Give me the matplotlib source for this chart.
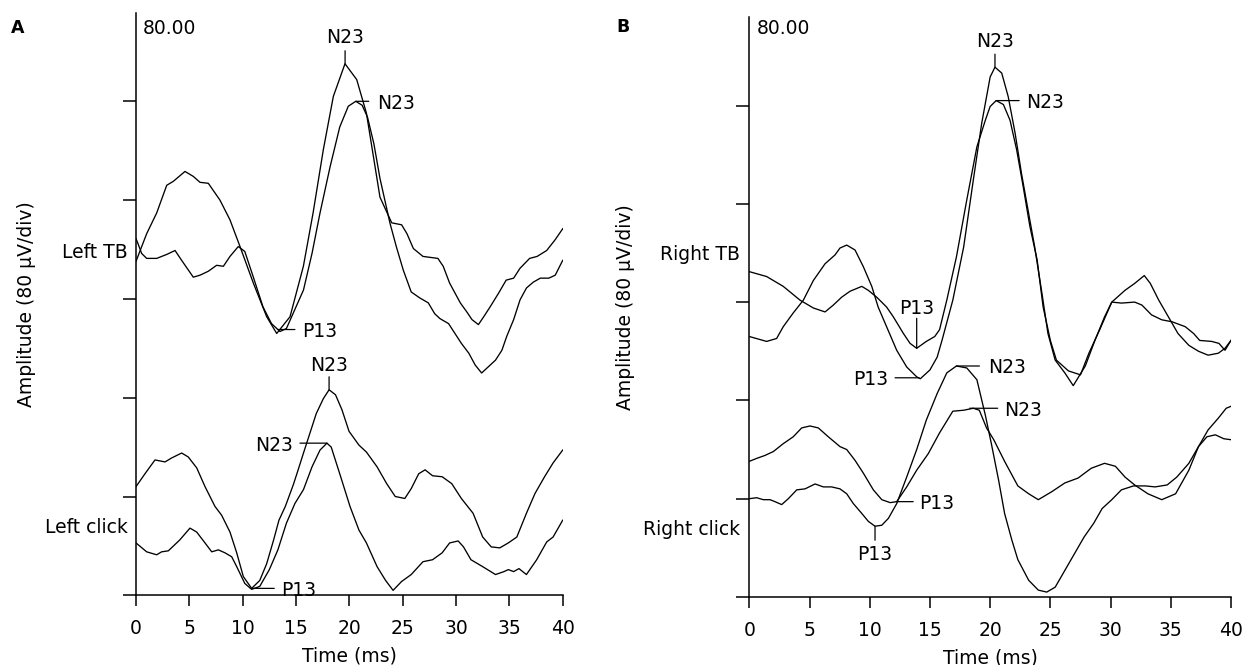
import matplotlib
matplotlib.use("Agg")
import matplotlib.pyplot as plt

plt.rcParams['font.family'] = ['DejaVu Sans']
plt.rcParams['font.size'] = 13.5

PX = 0.72   # points per pixel at 100 dpi

# ---------------- panel A : Left TB (amplitude in divisions of 80 uV)
a1_t = [0, 1.0, 1.94, 2.88, 3.5, 4.59, 5.37, 6.0, 6.78, 7.87, 8.81, 9.75, 11.0, 12.25,
        13.19, 14.44, 15.69, 16.6, 17.56, 18.5, 19.59, 20.69, 21.6, 22.87, 23.97, 24.9,
        25.4, 26.0, 26.9, 28.3, 28.8, 29.4, 30.4, 31.0, 31.5, 32.1, 32.6, 33.2, 34.0,
        34.7, 35.4, 36.0, 36.9, 37.6, 38.5, 39.3, 40.0]
a1_y = [3.38, 3.66, 3.87, 4.15, 4.19, 4.29, 4.24, 4.18, 4.17, 4.00, 3.80, 3.53, 3.16, 2.82,
        2.65, 2.82, 3.33, 3.87, 4.51, 5.05, 5.38, 5.22, 4.88, 4.03, 3.77, 3.75,
        3.66, 3.51, 3.43, 3.41, 3.33, 3.16, 2.96, 2.87, 2.79, 2.74, 2.82, 2.92, 3.06,
        3.19, 3.21, 3.31, 3.41, 3.43, 3.49, 3.60, 3.71]

a2_t = [0, 0.22, 0.53, 1.0, 1.94, 2.88, 3.66, 4.28, 5.37, 6.0, 6.78, 7.56, 8.19, 8.81,
        9.59, 10.2, 11.0, 11.9, 12.7, 13.5, 14.1, 15.7, 16.5, 17.25, 18.2, 19.1, 19.9,
        20.6, 21.2, 21.7, 22.3, 22.87, 23.8, 24.4, 25.06, 25.8, 26.6, 27.4, 28.0, 28.5,
        29.3, 29.9, 30.5, 31.2, 31.8, 32.4, 32.9, 33.7, 34.3, 34.75, 35.4, 36.0, 36.6,
        37.25, 37.9, 38.7, 39.3, 40.0]
a2_y = [3.61, 3.55, 3.46, 3.41, 3.41, 3.45, 3.49, 3.39, 3.22, 3.24, 3.28, 3.34, 3.33, 3.43,
        3.53, 3.48, 3.22, 2.92, 2.75, 2.67, 2.70, 3.09, 3.46, 3.87, 4.34, 4.74, 4.95,
        5.00, 4.96, 4.84, 4.57, 4.22, 3.77, 3.53, 3.29, 3.07, 3.01, 2.96, 2.85, 2.80,
        2.75, 2.65, 2.55, 2.45, 2.33, 2.25, 2.30, 2.38, 2.48, 2.62, 2.79, 2.99, 3.11,
        3.17, 3.21, 3.21, 3.24, 3.39]

# ---------------- panel A : Left click
c1_t = [0, 0.84, 1.78, 2.72, 3.34, 4.28, 4.9, 5.69, 6.47, 7.4, 8.03, 8.81, 9.44, 10.06,
        10.84, 11.6, 12.25, 12.9, 13.4, 14.0, 14.75, 15.2, 15.7, 16.3, 16.9, 17.56, 18.1,
        18.7, 19.3, 19.97, 20.9, 21.6, 22.6, 23.5, 24.3, 25.2, 25.8, 26.5, 27.1, 27.8,
        28.7, 29.6, 30.5, 31.6, 32.5, 33.3, 34.1, 34.9, 35.7, 36.6, 37.4, 38.3, 39.1, 40.0]
c1_y = [1.10, 1.23, 1.37, 1.35, 1.39, 1.44, 1.40, 1.29, 1.10, 0.90, 0.81, 0.64, 0.43, 0.19,
        0.07, 0.15, 0.32, 0.56, 0.76, 0.90, 1.12, 1.27, 1.44, 1.64, 1.84, 1.99, 2.08,
        2.03, 1.88, 1.66, 1.52, 1.45, 1.30, 1.13, 1.00, 0.98, 1.08, 1.23, 1.27, 1.21,
        1.20, 1.13, 0.98, 0.83, 0.59, 0.49, 0.48, 0.53, 0.59, 0.83, 1.03, 1.20, 1.34, 1.47]

c2_t = [0, 1.0, 1.94, 2.4, 3.03, 4.1, 5.06, 5.69, 6.47, 7.1, 7.72, 8.34, 8.97, 9.44, 10.2,
        10.84, 11.6, 12.5, 13.3, 14.1, 14.9, 15.7, 16.5, 17.25, 17.9, 18.3, 19.1, 20.06,
        20.9, 21.6, 22.6, 23.4, 24.1, 24.9, 25.8, 26.9, 27.8, 28.7, 29.4, 30.2, 30.7,
        31.4, 32.5, 33.7, 34.5, 34.9, 35.4, 35.9, 36.6, 37.56, 38.5, 39.1, 40.0]
c2_y = [0.53, 0.44, 0.41, 0.44, 0.45, 0.56, 0.68, 0.64, 0.53, 0.44, 0.46, 0.43, 0.39, 0.29,
        0.12, 0.06, 0.09, 0.26, 0.46, 0.73, 0.93, 1.07, 1.30, 1.47, 1.54, 1.50, 1.23, 0.90,
        0.66, 0.53, 0.29, 0.15, 0.05, 0.14, 0.21, 0.34, 0.36, 0.43, 0.53, 0.55, 0.49,
        0.36, 0.29, 0.21, 0.24, 0.26, 0.24, 0.27, 0.21, 0.36, 0.54, 0.59, 0.76]

# ---------------- panel B : Right TB
b1_t = [0, 1.44, 2.82, 4.21, 5.32, 6.29, 6.98, 7.67, 8.36, 9.34, 9.88, 10.58, 11.4, 11.96,
        12.8, 13.35, 13.9, 14.7, 15.4, 15.8, 16.4, 17.2, 18.06, 18.9, 19.6, 20.0, 20.5,
        21.1, 21.65, 22.2, 22.75, 23.3, 23.9, 24.4, 25.0, 25.5, 26.5, 27.5, 28.2, 29.1,
        30.1, 30.9, 32.0, 32.6, 33.4, 34.25, 35.1, 36.2, 36.9, 37.4, 38.4, 39.0, 39.5, 40.0]
b1_y = [3.31, 3.26, 3.16, 3.02, 2.94, 2.90, 2.97, 3.05, 3.11, 3.16, 3.12, 3.05, 2.95, 2.85,
        2.68, 2.58, 2.53, 2.60, 2.65, 2.72, 3.02, 3.46, 4.04, 4.58, 4.85, 4.99, 5.05,
        5.01, 4.85, 4.55, 4.17, 3.77, 3.43, 2.95, 2.61, 2.41, 2.30, 2.26, 2.48, 2.72,
        3.00, 2.99, 3.00, 2.97, 2.87, 2.82, 2.80, 2.75, 2.68, 2.61, 2.60, 2.58, 2.51, 2.61]

b2_t = [0, 1.44, 2.27, 2.82, 3.65, 4.49, 5.32, 6.29, 7.12, 7.53, 8.09, 8.78, 9.47, 10.17,
        10.7, 11.4, 12.24, 13.07, 13.9, 14.2, 15.0, 15.6, 16.0, 16.9, 17.8, 18.6, 19.3,
        20.0, 20.4, 20.96, 21.5, 22.07, 22.6, 23.2, 23.7, 24.3, 24.8, 25.4, 26.2, 26.9,
        27.9, 28.7, 29.5, 30.1, 31.2, 32.0, 32.8, 33.3, 34.0, 34.8, 35.6, 36.5, 37.3,
        38.1, 38.95, 39.5, 40.0]
b2_y = [2.65, 2.60, 2.63, 2.75, 2.89, 3.02, 3.22, 3.39, 3.48, 3.55, 3.58, 3.53, 3.36, 3.16,
        2.95, 2.75, 2.51, 2.34, 2.24, 2.22, 2.31, 2.44, 2.61, 3.02, 3.56, 4.24, 4.82,
        5.29, 5.39, 5.33, 5.09, 4.72, 4.31, 3.90, 3.56, 3.09, 2.68, 2.41, 2.28, 2.15,
        2.35, 2.61, 2.85, 3.00, 3.12, 3.19, 3.27, 3.19, 3.02, 2.85, 2.68, 2.56, 2.50,
        2.46, 2.48, 2.53, 2.61]

# ---------------- panel B : Right click
d1_t = [0, 0.61, 1.30, 2.0, 2.82, 3.65, 4.35, 5.04, 5.73, 6.56, 7.53, 8.09, 8.78, 9.47,
        10.3, 11.0, 11.7, 12.24, 13.07, 13.9, 14.87, 15.8, 16.9, 17.8, 18.6, 19.1, 19.7,
        20.3, 21.2, 22.3, 23.2, 24.0, 25.1, 26.2, 27.3, 28.4, 29.5, 30.4, 31.2, 32.0,
        33.1, 34.25, 35.4, 36.5, 37.3, 38.0, 38.7, 39.4, 40.0]
d1_y = [1.38, 1.41, 1.44, 1.48, 1.56, 1.63, 1.72, 1.74, 1.72, 1.63, 1.53, 1.50, 1.39, 1.26,
        1.09, 0.99, 0.96, 0.97, 1.12, 1.29, 1.46, 1.67, 1.89, 1.90, 1.92, 1.90, 1.72,
        1.60, 1.38, 1.13, 1.05, 0.99, 1.07, 1.16, 1.21, 1.31, 1.36, 1.33, 1.22, 1.14,
        1.05, 0.99, 1.05, 1.29, 1.53, 1.63, 1.65, 1.61, 1.60]

d2_t = [0, 0.61, 1.16, 1.72, 2.13, 2.69, 3.24, 3.94, 4.63, 5.46, 6.15, 6.84, 7.53, 8.09,
        8.64, 9.34, 9.88, 10.44, 11.0, 11.55, 12.24, 13.07, 13.9, 14.7, 15.6, 16.4, 17.2,
        18.06, 18.9, 19.6, 20.1, 20.7, 21.2, 21.8, 22.3, 23.2, 24.0, 24.7, 25.4, 26.2,
        27.0, 27.8, 28.6, 29.3, 30.1, 30.9, 31.9, 32.9, 33.7, 34.7, 35.5, 36.5, 37.3,
        38.1, 38.95, 39.6, 40.0]
d2_y = [1.00, 1.01, 0.99, 0.99, 0.97, 0.94, 1.00, 1.09, 1.10, 1.15, 1.12, 1.12, 1.10, 1.05,
        0.95, 0.85, 0.77, 0.72, 0.73, 0.80, 0.95, 1.22, 1.50, 1.80, 2.07, 2.28, 2.35,
        2.33, 2.21, 1.85, 1.56, 1.19, 0.85, 0.58, 0.38, 0.17, 0.07, 0.05, 0.10, 0.27,
        0.44, 0.61, 0.75, 0.90, 0.99, 1.09, 1.13, 1.13, 1.12, 1.14, 1.22, 1.36, 1.53,
        1.70, 1.82, 1.92, 1.94]

# peak labels: text, time, amplitude, side, leader length (px), text distance (px)
a_marks = [("N23", 19.6, 5.38, "up", 13, 28),
           ("N23", 20.6, 5.00, "right", 13, 21),
           ("P13", 13.3, 2.69, "right", 17, 24),
           ("N23", 18.1, 2.08, "up", 13, 26),
           ("N23", 17.9, 1.54, "left", 27, 34),
           ("P13", 10.9, 0.07, "right", 22, 29)]
b_marks = [("N23", 20.4, 5.39, "up", 13, 28),
           ("N23", 20.5, 5.05, "right", 23, 30),
           ("P13", 13.9, 2.53, "up", 30, 42),
           ("P13", 14.1, 2.23, "left", 24, 31),
           ("N23", 17.2, 2.35, "right", 23, 32),
           ("N23", 18.3, 1.92, "right", 28, 34),
           ("P13", 12.2, 0.97, "right", 17, 23),
           ("P13", 10.44, 0.72, "down", 14, 26)]

a_side = [("Left TB", 3.49), ("Left click", 0.71)]
b_side = [("Right TB", 3.50), ("Right click", 0.71)]

xticks = [0, 5, 10, 15, 20, 25, 30, 35, 40]
yticks = [0, 1, 2, 3, 4, 5]


def mark(ax, text, t, y, side, line_px, text_px):
    dx, dy = {"up": (0, 1), "down": (0, -1), "left": (-1, 0), "right": (1, 0)}[side]
    ax.annotate("", xy=(t, y), xytext=(dx * line_px * PX, dy * line_px * PX),
                textcoords="offset points",
                arrowprops=dict(arrowstyle="-", lw=0.9, color="k", shrinkA=0, shrinkB=0))
    ha = {"up": "center", "down": "center", "left": "right", "right": "left"}[side]
    ax.annotate(text, xy=(t, y), xytext=(dx * text_px * PX, dy * text_px * PX),
                textcoords="offset points", ha=ha, va="center_baseline")


def setup(ax, ymax, top_px, ylab_x):
    ax.set_xlim(0, 40)
    ax.set_ylim(0, ymax)
    ax.spines['top'].set_visible(False)
    ax.spines['right'].set_visible(False)
    ax.spines['left'].set_linewidth(1.1)
    ax.spines['bottom'].set_linewidth(1.1)
    ax.set_xticks(xticks)
    ax.set_yticks(yticks)
    ax.tick_params(axis='x', length=8.2, width=1.1, pad=9.0)
    ax.tick_params(axis='y', length=9.4, width=1.1, labelleft=False)
    ax.set_xlabel("Time (ms)", labelpad=6.0)
    ax.set_ylabel("Amplitude (80 \u00b5V/div)")
    ax.yaxis.set_label_coords(ylab_x, 0.5)
    ax.annotate("80.00", xy=(0, 1), xycoords="axes fraction",
                xytext=(7 * PX, -top_px * PX), textcoords="offset points",
                ha="left", va="center_baseline")


fig = plt.figure(figsize=(12.45, 6.65), dpi=100)
axA = fig.add_axes([136 / 1245, 69.7 / 665, 426.7 / 1245, 582 / 665])
axB = fig.add_axes([749.3 / 1245, 68 / 665, 481.7 / 1245, 580.3 / 665])

setup(axA, 582 / 98.8, 13, -0.234)
setup(axB, 580.3 / 98.3, 9.5, -0.237)

for t, y in [(a1_t, a1_y), (a2_t, a2_y), (c1_t, c1_y), (c2_t, c2_y)]:
    axA.plot(t, y, color='k', lw=0.95)
for t, y in [(b1_t, b1_y), (b2_t, b2_y), (d1_t, d1_y), (d2_t, d2_y)]:
    axB.plot(t, y, color='k', lw=0.95)

for m in a_marks:
    mark(axA, *m)
for m in b_marks:
    mark(axB, *m)

for ax, labels in [(axA, a_side), (axB, b_side)]:
    for txt, y in labels:
        ax.text(-0.019, y, txt, transform=ax.get_yaxis_transform(),
                ha="right", va="center_baseline")

fig.text(18 / 1245, 1 - 28 / 665, "A", fontsize=12.5, fontweight="bold", ha="center", va="center")
fig.text(623 / 1245, 1 - 27 / 665, "B", fontsize=12.5, fontweight="bold", ha="center", va="center")

fig.savefig("out.png", dpi=100)
